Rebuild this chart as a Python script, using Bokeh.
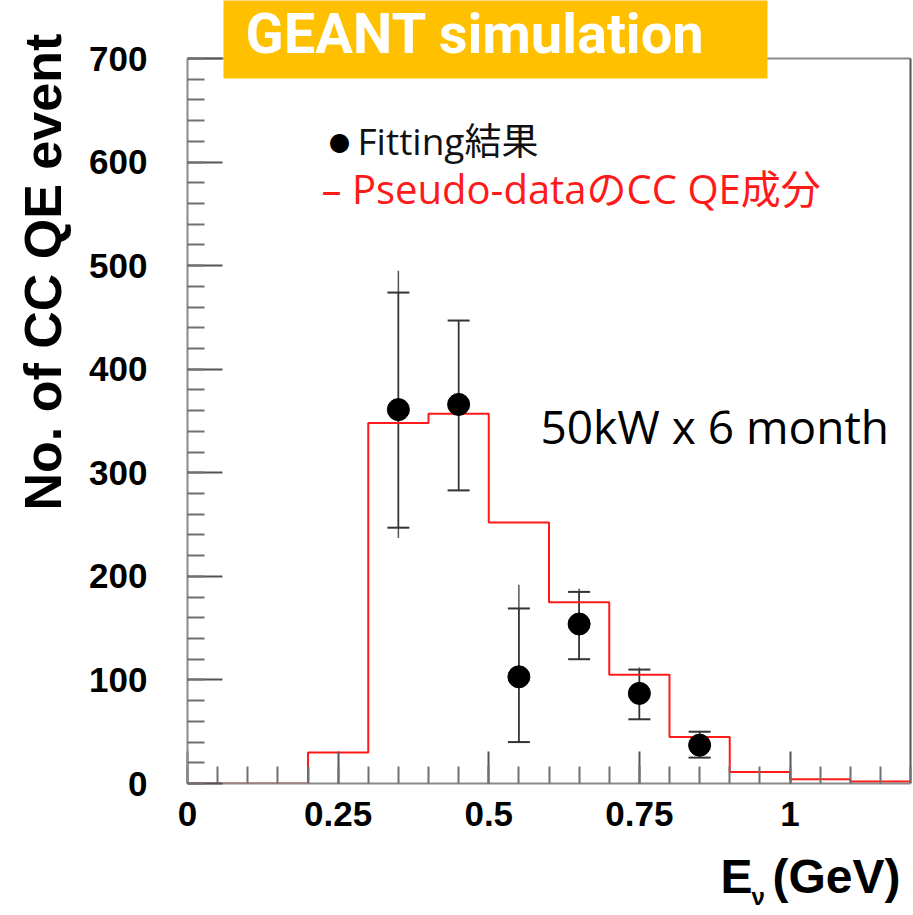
import math
from bokeh.plotting import figure
from bokeh.models import (ColumnDataSource, Label, Whisker, TeeHead, Range1d,
                          SingleIntervalTicker, BoxAnnotation)
from bokeh.layouts import row, column
from bokeh.embed import file_html
from bokeh.resources import INLINE

# ---- data ----
bin_edges = [0.0, 0.1, 0.2, 0.3, 0.4, 0.5, 0.6, 0.7, 0.8, 0.9, 1.0, 1.1, 1.2]
mc_counts = [0, 0, 30, 348, 357, 252, 175, 105, 45, 11, 4, 2]

fit_x = [0.35, 0.45, 0.55, 0.65, 0.75, 0.85]
fit_y = [361, 366, 103, 154, 87, 37]
err_line_lo = [237, 283, 39, 120, 62, 25]
err_line_hi = [495, 447, 192, 188, 112, 50]
err_cap_lo = [247, 283, 40, 120, 62, 25]
err_cap_hi = [474, 447, 169, 185, 110, 50]

x_ticks = [0, 0.25, 0.5, 0.75, 1.0]
x_tick_labels = ["0", "0.25", "0.5", "0.75", "1"]
y_ticks = [0, 100, 200, 300, 400, 500, 600, 700]
y_tick_labels = ["0", "100", "200", "300", "400", "500", "600", "700"]

X_MAX = 1.2
Y_MAX = 700

# ---- page geometry (pixels) ----
PAGE_W, PAGE_H = 913, 915
LEFT_W = 78            # strip holding the y title
MAIN_H = 850           # main figure height, bottom strip holds x title
FRAME_L, FRAME_R, FRAME_B, FRAME_T = 187, 910, 783, 58
BASE_SHIFT = 0.36      # label anchor sits this many em above the glyph baseline

main_w = PAGE_W - LEFT_W
border_l = FRAME_L - LEFT_W
border_b = MAIN_H - FRAME_B
frame_w = main_w - border_l
frame_h = MAIN_H - border_b
x_end = X_MAX * frame_w / (FRAME_R - FRAME_L)
y_end = Y_MAX * frame_h / (FRAME_B - FRAME_T)

# ---- main figure ----
p = figure(width=main_w, height=MAIN_H, output_backend="svg", toolbar_location=None,
           x_range=Range1d(0, x_end), y_range=Range1d(0, y_end),
           min_border_left=border_l, min_border_right=0, min_border_top=0,
           min_border_bottom=border_b)
p.background_fill_color = "white"
p.border_fill_color = "white"
p.outline_line_color = None
p.xgrid.visible = False
p.ygrid.visible = False

AX_FONT = "Liberation Sans"
for ax in (p.xaxis[0], p.yaxis[0]):
    ax.axis_line_color = "#8a8a8a"
    ax.axis_line_width = 2
    ax.major_tick_line_color = "#555555"
    ax.minor_tick_line_color = "#707070"
    ax.major_tick_line_width = 2
    ax.minor_tick_line_width = 2
    ax.major_tick_out = 0
    ax.minor_tick_out = 0
    ax.major_label_text_font = AX_FONT
    ax.major_label_text_font_style = "bold"
    ax.major_label_text_font_size = "35px"
    ax.major_label_text_color = "black"

p.xaxis[0].ticker = SingleIntervalTicker(interval=0.25, num_minor_ticks=5)
p.xaxis[0].bounds = (0, X_MAX)
p.xaxis[0].major_tick_in = 32
p.xaxis[0].minor_tick_in = 17
p.xaxis[0].major_label_standoff = 18
p.xaxis[0].major_label_overrides = dict(zip(x_ticks, x_tick_labels))

p.yaxis[0].ticker = SingleIntervalTicker(interval=100, num_minor_ticks=5)
p.yaxis[0].bounds = (0, Y_MAX)
p.yaxis[0].major_tick_in = 35
p.yaxis[0].minor_tick_in = 17
p.yaxis[0].major_label_standoff = 40
p.yaxis[0].major_label_overrides = dict(zip(y_ticks, y_tick_labels))

# frame top and right edges
p.segment(x0=[0], y0=[Y_MAX], x1=[X_MAX], y1=[Y_MAX], line_color="#8a8a8a", line_width=2)
p.segment(x0=[X_MAX], y0=[0], x1=[X_MAX], y1=[Y_MAX], line_color="#555555", line_width=2)

# ---- histogram (pseudo-data CC QE component) ----
p.step(x=bin_edges, y=mc_counts + [mc_counts[-1]], mode="after",
       line_color="#ff1a1a", line_width=2)

# ---- fit result with error bars ----
src = ColumnDataSource(dict(x=fit_x, y=fit_y, llo=err_line_lo, lhi=err_line_hi,
                            clo=err_cap_lo, chi=err_cap_hi))
p.add_layout(Whisker(base="x", lower="llo", upper="lhi", source=src,
                     upper_head=None, lower_head=None,
                     line_color="#555555", line_width=1.5))
p.add_layout(Whisker(base="x", lower="clo", upper="chi", source=src,
                     upper_head=TeeHead(size=22, line_color="#333333", line_width=2),
                     lower_head=TeeHead(size=22, line_color="#333333", line_width=2),
                     line_color="#333333", line_width=1.5))
p.scatter(x="x", y="y", source=src, size=22, color="black")


# ---- text helper: page pixel position of the glyph baseline start ----
def page_label(fig, fig_left, fig_bottom, text, X, Y, size, angle=0.0, **kw):
    shift = BASE_SHIFT * size
    if angle:
        sx, sy = X - shift - fig_left, fig_bottom - Y
    else:
        sx, sy = X - fig_left, fig_bottom - Y + shift
    fig.add_layout(Label(x=sx, y=sy, x_units="screen", y_units="screen", text=text,
                         text_font_size=f"{size}px", angle=angle,
                         text_baseline="alphabetic", **kw))


LEG_FONT = "'Open Sans', 'Noto Sans CJK JP'"
p.add_layout(Label(x=339 - FRAME_L, y=FRAME_B - 142, x_units="screen", y_units="screen",
                   text="●", text_font=LEG_FONT, text_font_size="21px",
                   text_color="black", text_align="center", text_baseline="middle"))
page_label(p, FRAME_L, FRAME_B, "Fitting結果", 357, 153, 37,
           text_font=LEG_FONT, text_color="#111111")
page_label(p, FRAME_L, FRAME_B, "– Pseudo-dataのCC QE成分", 321, 202, 40,
           text_font=LEG_FONT, text_color="#ff1a1a")
page_label(p, FRAME_L, FRAME_B, "50kW x 6 month", 540, 442, 46,
           text_font="Open Sans", text_color="black")

# banner
p.add_layout(BoxAnnotation(left=223 - FRAME_L, right=767 - FRAME_L,
                           bottom=FRAME_B - 78, top=FRAME_B + 20,
                           left_units="screen", right_units="screen",
                           bottom_units="screen", top_units="screen",
                           fill_color="#ffc000", fill_alpha=1.0, line_color=None))
page_label(p, FRAME_L, FRAME_B, "GEANT simulation", 245, 54, 56,
           text_font="Roboto", text_font_style="bold", text_color="white")

# ---- y title strip ----
pl = figure(width=LEFT_W, height=PAGE_H, output_backend="svg", toolbar_location=None,
            x_range=Range1d(0, 1), y_range=Range1d(0, 1),
            x_axis_type=None, y_axis_type=None, min_border=0)
pl.outline_line_color = None
pl.xgrid.visible = False
pl.ygrid.visible = False
page_label(pl, 0, PAGE_H, "No. of CC QE event", 61, 510, 52, angle=math.pi / 2,
           text_font=AX_FONT, text_font_style="bold", text_color="black")

# ---- x title strip (its frame is aligned with the main frame) ----
pb = figure(width=main_w, height=PAGE_H - MAIN_H, output_backend="svg",
            toolbar_location=None, x_range=Range1d(0, 1), y_range=Range1d(0, 1),
            x_axis_type=None, y_axis_type=None, min_border=0)
pb.outline_line_color = None
pb.xgrid.visible = False
pb.ygrid.visible = False
for txt, X, Y, size in (("E", 720, 893, 48), ("ν", 751, 905, 24), ("(GeV)", 772, 893, 48)):
    page_label(pb, FRAME_L, PAGE_H, txt, X, Y, size,
               text_font=AX_FONT, text_font_style="bold", text_color="black")

lay = row(pl, column(p, pb))
open("out.html", "w").write(file_html(lay, INLINE))
